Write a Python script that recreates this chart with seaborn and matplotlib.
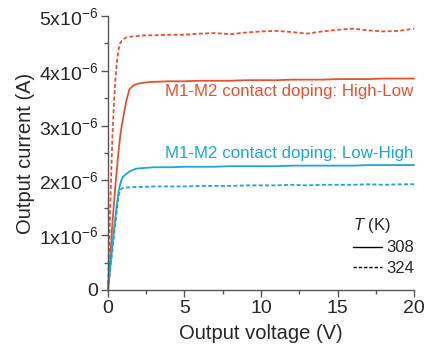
import numpy as np
import pandas as pd
import matplotlib
matplotlib.use("Agg")
import matplotlib.pyplot as plt
import seaborn as sns
from matplotlib.lines import Line2D
from matplotlib.ticker import MultipleLocator, FixedLocator

sns.set_style("ticks")
plt.rcParams['font.family'] = ['Liberation Sans', 'DejaVu Sans']
plt.rcParams['mathtext.fontset'] = 'custom'
plt.rcParams['mathtext.rm'] = 'Liberation Sans'
plt.rcParams['mathtext.it'] = 'Liberation Sans:italic'

# Data (current in units of 1e-6 A)
voltage = [0, 0.1, 0.2, 0.3, 0.4, 0.5, 0.6, 0.7, 0.8, 0.9, 1.0, 1.2, 1.4, 1.6, 1.8,
           2.0, 2.5, 3, 4, 5, 6, 7, 8, 9, 10, 11, 12, 13, 14, 15, 16, 17, 18, 19, 20]
hl_308 = [0, 0.35, 0.8, 1.25, 1.6, 1.95, 2.25, 2.55, 2.8, 3.0, 3.15, 3.45, 3.66, 3.72, 3.75,
          3.77, 3.79, 3.80, 3.81, 3.81, 3.82, 3.82, 3.82, 3.83, 3.83, 3.83, 3.84, 3.84, 3.84,
          3.85, 3.85, 3.85, 3.86, 3.86, 3.86]
hl_324 = [0, 1.0, 2.0, 2.85, 3.45, 3.9, 4.2, 4.4, 4.5, 4.55, 4.58, 4.61, 4.62, 4.63, 4.63,
          4.64, 4.65, 4.65, 4.66, 4.66, 4.68, 4.69, 4.67, 4.70, 4.72, 4.73, 4.71, 4.68, 4.72,
          4.75, 4.77, 4.74, 4.72, 4.73, 4.77]
lh_308 = [0, 0.28, 0.56, 0.84, 1.1, 1.36, 1.6, 1.8, 1.93, 2.02, 2.07, 2.12, 2.16, 2.19, 2.21,
          2.22, 2.23, 2.24, 2.24, 2.25, 2.25, 2.25, 2.26, 2.26, 2.26, 2.26, 2.27, 2.27, 2.27,
          2.27, 2.27, 2.28, 2.28, 2.28, 2.28]
lh_324 = [0, 0.25, 0.5, 0.75, 1.0, 1.25, 1.5, 1.72, 1.83, 1.85, 1.86, 1.87, 1.875, 1.88, 1.88,
          1.88, 1.885, 1.89, 1.89, 1.89, 1.90, 1.90, 1.90, 1.91, 1.91, 1.91, 1.92, 1.91, 1.92,
          1.92, 1.92, 1.93, 1.92, 1.93, 1.93]

x_ticks = [0, 5, 10, 15, 20]
x_ticklabels = ["0", "5", "10", "15", "20"]
y_ticks = [0, 1e-6, 2e-6, 3e-6, 4e-6, 5e-6]
y_ticklabels = ["0"] + [f"{k}x10$^{{-6}}$" for k in range(1, 6)]
temps = ["308", "324"]
colors = {"High-Low": "#E8502D", "Low-High": "#1AA7D3"}

rows = []
for dop, T, vals in [("High-Low", "308", hl_308), ("High-Low", "324", hl_324),
                     ("Low-High", "308", lh_308), ("Low-High", "324", lh_324)]:
    for v, i in zip(voltage, vals):
        rows.append({"V": v, "I": i * 1e-6, "doping": dop, "T": T})
df = pd.DataFrame(rows)

fig = plt.figure(figsize=(4.30, 3.58), dpi=100)
ax = fig.add_axes([0.251, 0.19, 0.712, 0.765])

sns.lineplot(data=df, x="V", y="I", hue="doping", style="T", palette=colors,
             dashes={"308": "", "324": (2.2, 1.3)}, linewidth=1.3, ax=ax,
             legend=False, estimator=None, sort=False)
for ln in ax.lines:
    ln.set_clip_on(False)

ax.set_xlim(0, 20)
ax.set_ylim(0, 5e-6)
ax.xaxis.set_major_locator(FixedLocator(x_ticks))
ax.xaxis.set_minor_locator(FixedLocator([2.5, 7.5, 12.5, 17.5]))
ax.set_xticklabels(x_ticklabels)
ax.yaxis.set_major_locator(FixedLocator(y_ticks))
ax.yaxis.set_minor_locator(FixedLocator([0.5e-6, 1.5e-6, 2.5e-6, 3.5e-6, 4.5e-6]))
ax.set_yticklabels(y_ticklabels)

sns.despine(ax=ax)
for s in ["left", "bottom"]:
    ax.spines[s].set_color("#555555")
    ax.spines[s].set_linewidth(1.0)
ax.tick_params(which="major", direction="out", length=5, width=1.0, color="#555555",
               labelsize=14, pad=2)
ax.tick_params(which="minor", direction="out", length=3, width=1.0, color="#555555")

ax.set_xlabel("Output voltage (V)", fontsize=14.5, labelpad=5)
ax.set_ylabel("Output current (A)", fontsize=14.5, labelpad=3)

ax.text(19.95, 3.62e-6, "M1-M2 contact doping: High-Low", color=colors["High-Low"],
        ha="right", va="center", fontsize=12.2)
ax.text(19.95, 2.49e-6, "M1-M2 contact doping: Low-High", color=colors["Low-High"],
        ha="right", va="center", fontsize=12.2)

handles = [Line2D([], [], color="black", lw=1.0, ls="-"),
           Line2D([], [], color="black", lw=1.0, ls=(0, (2.4, 1.4)))]
leg = ax.legend(handles, temps, title="$T$ (K)", loc="lower right",
                bbox_to_anchor=(1.0, 0.05), frameon=False, fontsize=12,
                title_fontsize=12, handlelength=1.75, handletextpad=0.25,
                labelspacing=0.35, borderaxespad=0.0, borderpad=0.0)
leg._legend_box.align = "left"

fig.savefig("out.png", dpi=100)
